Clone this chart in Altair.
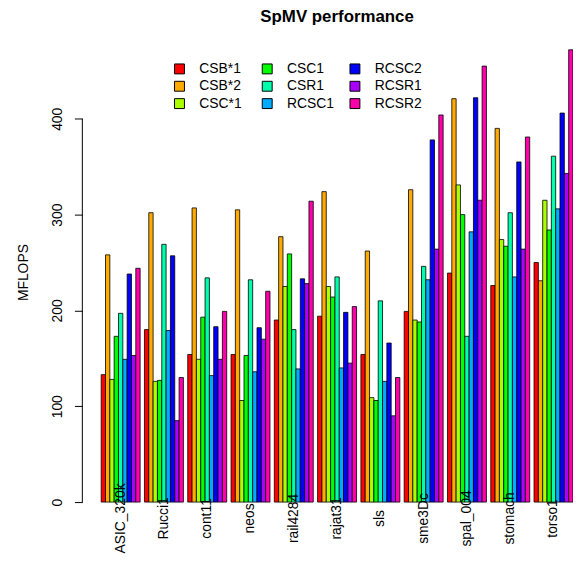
import altair as alt
import pandas as pd

matrices = ["ASIC_320k", "Rucci1", "cont11", "neos", "rail4284", "rajat31",
            "sls", "sme3Dc", "spal_004", "stomach", "torso1"]
formats = ["CSB*1", "CSB*2", "CSC*1", "CSC1", "CSR1", "RCSC1", "RCSC2", "RCSR1", "RCSR2"]
colors = ["#FF0000", "#FFAA00", "#AAFF00", "#00FF00", "#00FFAA", "#00AAFF",
          "#0000FF", "#AA00FF", "#FF00AA"]

csb_star1 = [133, 180, 154, 154, 190, 194, 154, 199, 239, 226, 250]
csb_star2 = [258, 302, 307, 305, 277, 324, 262, 326, 421, 390, 231]
csc_star1 = [128, 126, 149, 106, 225, 225, 109, 190, 331, 274, 315]
csc1 = [173, 127, 193, 153, 259, 214, 106, 188, 300, 267, 284]
csr1 = [197, 269, 234, 232, 180, 235, 210, 246, 173, 302, 361]
rcsc1 = [149, 179, 132, 136, 139, 140, 126, 232, 282, 235, 306]
rcsc2 = [238, 257, 183, 182, 233, 198, 166, 378, 422, 355, 406]
rcsr1 = [153, 85, 149, 170, 228, 145, 90, 264, 315, 264, 343]
rcsr2 = [244, 130, 199, 220, 314, 204, 130, 404, 455, 381, 472]

series = [csb_star1, csb_star2, csc_star1, csc1, csr1, rcsc1, rcsc2, rcsr1, rcsr2]

rows = []
for fmt, vals in zip(formats, series):
    for m, v in zip(matrices, vals):
        rows.append({"matrix": m, "format": fmt, "mflops": v})
df = pd.DataFrame(rows)

FONT = "Liberation Sans"

bars = alt.Chart(df).mark_bar(stroke="black", strokeWidth=0.8).encode(
    x=alt.X("matrix:N", sort=matrices,
            scale=alt.Scale(paddingInner=0.1, paddingOuter=0),
            axis=alt.Axis(title=None, labelAngle=-90, labelAlign="center",
                          labelBaseline="middle", labelPadding=16, domain=False,
                          ticks=False, labelFontSize=14, labelColor="black",
                          labelFont=FONT, labelLimit=300, zindex=2)),
    xOffset=alt.XOffset("format:N", sort=formats,
                        scale=alt.Scale(paddingInner=0, paddingOuter=0)),
    y=alt.Y("mflops:Q", scale=alt.Scale(domain=[0, 480], nice=False),
            axis=alt.Axis(values=[0, 100, 200, 300, 400], title="MFLOPS",
                          offset=19, domain=False, grid=False, tickSize=8,
                          tickColor="black", labelAngle=-90, labelAlign="center",
                          labelBaseline="bottom", labelPadding=10,
                          labelFontSize=14, labelColor="black", labelFont=FONT,
                          titleFontSize=14, titleFontWeight="normal",
                          titleColor="black", titleFont=FONT, titlePadding=20)),
    color=alt.Color("format:N",
                    scale=alt.Scale(domain=formats, range=colors),
                    legend=alt.Legend(title=None, orient="none", legendX=72,
                                      legendY=20, columns=3, gridAlign="all",
                                      symbolType="square", symbolSize=100,
                                      symbolStrokeColor="black",
                                      symbolStrokeWidth=1, symbolOpacity=1,
                                      labelFontSize=14, labelFont=FONT,
                                      labelColor="black", labelOffset=13,
                                      columnPadding=13.5, rowPadding=3.5)),
)

axis_line = alt.Chart(pd.DataFrame({"a": [0]})).mark_rule(
    color="black", strokeWidth=1).encode(
    x=alt.value(-19),
    y=alt.Y(datum=0),
    y2=alt.Y2(datum=400),
)

chart = alt.layer(bars, axis_line).properties(
    width=476, height=464,
    autosize=alt.AutoSizeParams(type="none"),
    padding={"left": 94, "top": 32, "right": 0, "bottom": 58},
    title=alt.TitleParams("SpMV performance", fontSize=17, fontWeight="bold",
                          font=FONT, color="black", offset=16, anchor="middle",
                          frame="group"),
).configure_view(stroke=None)

chart.save("out.html", embed_options={"renderer": "svg", "actions": False})
